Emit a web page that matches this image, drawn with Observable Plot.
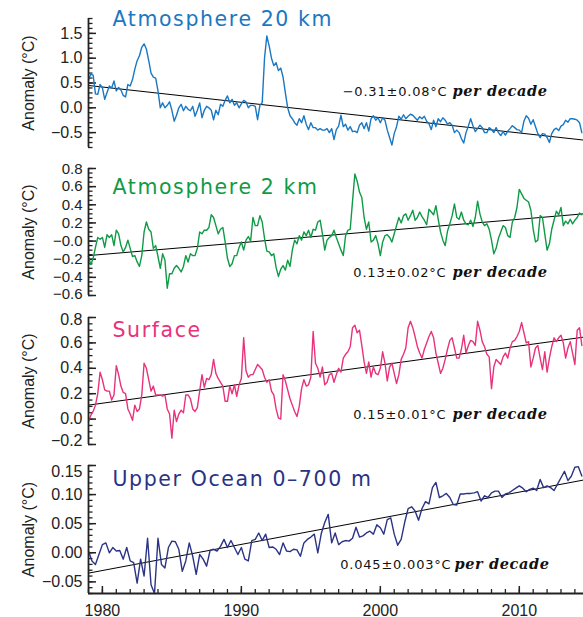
<!DOCTYPE html>
<html><head><meta charset="utf-8">
<script src="https://cdn.jsdelivr.net/npm/d3@7"></script>
<script src="https://cdn.jsdelivr.net/npm/@observablehq/plot@0.6"></script>
<style>
html,body{margin:0;padding:0;background:#fff;}
#chart{width:583px;height:617px;position:relative;overflow:hidden;}
#chart svg{display:block;overflow:visible;}
</style></head>
<body><div id="chart"></div>
<script>
// ---------- data ----------
const startYear = 1979;
const monthlyStep = 1 / 6;   // two-month sampling of the atmospheric/surface series
const oceanStep = 0.25;      // quarterly ocean series

const atm20 = [
 0.56,0.68,0.66,0.28,0.27,0.47,0.40,0.17,0.31,0.44,
 0.40,0.54,0.34,0.41,0.36,0.25,0.22,0.47,0.44,0.57,
 0.78,0.95,1.05,1.22,1.29,1.18,0.95,0.70,0.62,0.60,
 0.34,0.00,0.10,0.00,0.05,0.12,-0.05,-0.27,-0.15,0.00,
 0.07,-0.06,0.03,-0.03,-0.06,0.03,-0.17,-0.05,0.10,-0.20,
 -0.05,0.03,0.00,-0.05,-0.24,-0.05,-0.14,0.07,0.03,0.15,
 0.24,0.10,0.17,0.05,0.10,0.00,0.08,0.15,0.12,0.00,
 0.05,0.05,0.03,-0.24,0.05,0.10,1.00,1.45,1.25,1.00,
 0.85,0.91,0.75,0.80,0.62,0.30,0.00,-0.16,-0.22,-0.30,
 -0.35,-0.22,-0.30,-0.16,-0.33,-0.44,-0.30,-0.40,-0.40,-0.45,
 -0.42,-0.45,-0.45,-0.42,-0.50,-0.42,-0.64,-0.44,-0.37,-0.15,
 -0.38,-0.33,-0.45,-0.38,-0.48,-0.47,-0.50,-0.35,-0.30,-0.42,
 -0.30,-0.47,-0.22,-0.16,-0.25,-0.20,-0.30,-0.20,-0.25,-0.45,
 -0.60,-0.75,-0.52,-0.38,-0.17,-0.23,-0.14,-0.22,-0.17,-0.13,
 -0.15,-0.20,-0.25,-0.18,-0.22,-0.17,-0.27,-0.32,-0.44,-0.25,
 -0.38,-0.22,-0.28,-0.20,-0.25,-0.33,-0.30,-0.35,-0.50,-0.45,
 -0.50,-0.62,-0.71,-0.50,-0.37,-0.22,-0.36,-0.48,-0.42,-0.35,
 -0.40,-0.50,-0.50,-0.40,-0.44,-0.50,-0.40,-0.50,-0.56,-0.48,
 -0.55,-0.47,-0.42,-0.36,-0.40,-0.44,-0.45,-0.50,-0.27,-0.16,
 -0.21,-0.33,-0.24,-0.38,-0.52,-0.60,-0.52,-0.53,-0.60,-0.70,
 -0.52,-0.44,-0.41,-0.46,-0.37,-0.34,-0.25,-0.29,-0.22,-0.22,
 -0.23,-0.25,-0.30,-0.50
];

const atm2 = [
 -0.17,-0.26,-0.19,-0.07,0.04,0.02,0.04,-0.07,0.07,0.04,
 0.07,-0.05,0.12,0.08,-0.05,-0.12,-0.07,0.01,-0.08,-0.17,
 -0.16,-0.23,-0.28,-0.16,0.10,0.21,0.13,0.10,-0.08,-0.05,
 -0.17,-0.30,-0.14,-0.21,-0.52,-0.36,-0.36,-0.30,-0.27,-0.30,
 -0.34,-0.28,-0.16,-0.23,-0.14,-0.16,-0.16,-0.08,0.10,0.08,
 0.12,0.12,0.15,0.29,0.26,0.17,0.08,0.13,0.15,-0.01,
 -0.19,-0.28,-0.25,-0.16,-0.16,-0.07,-0.01,-0.10,0.01,0.05,
 0.00,0.26,0.17,0.17,0.28,0.21,0.03,-0.11,-0.12,-0.16,
 -0.14,-0.29,-0.39,-0.31,-0.27,-0.32,-0.21,-0.28,-0.10,0.01,
 -0.03,0.06,0.01,0.10,0.06,0.12,0.04,0.13,0.12,0.21,
 0.23,0.08,-0.10,0.01,0.04,0.06,0.12,0.04,-0.03,-0.10,
 -0.16,0.06,0.12,0.13,0.44,0.74,0.66,0.54,0.48,0.26,
 0.13,0.21,-0.01,0.01,0.06,-0.03,-0.16,-0.01,0.06,0.07,
 0.04,-0.01,0.08,0.17,0.26,0.20,0.28,0.30,0.23,0.28,
 0.34,0.23,0.26,0.32,0.27,0.23,0.18,0.35,0.32,0.29,
 0.39,0.24,0.10,0.01,-0.05,0.11,0.19,0.28,0.41,0.26,
 0.24,0.32,0.23,0.19,0.18,0.23,0.16,0.26,0.44,0.30,
 0.21,0.17,0.19,0.13,0.01,-0.14,-0.08,0.03,0.10,0.17,
 0.15,0.06,0.04,0.21,0.26,0.37,0.57,0.52,0.47,0.45,
 0.43,0.34,0.13,-0.01,0.01,0.28,0.26,0.08,-0.10,-0.03,
 0.13,0.23,0.33,0.29,0.37,0.17,0.22,0.19,0.24,0.19,
 0.23,0.26,0.31,0.29
];

const surface = [
 -0.02,0.03,0.06,0.11,0.20,0.37,0.31,0.23,0.22,0.22,
 0.15,0.19,0.42,0.35,0.26,0.21,0.20,0.08,0.04,-0.01,
 0.11,0.06,0.08,0.19,0.44,0.40,0.31,0.22,0.26,0.19,
 0.19,0.19,0.18,0.19,0.08,0.04,-0.15,0.07,-0.02,0.04,
 0.07,0.05,0.19,0.19,0.16,0.08,0.06,0.09,0.22,0.35,
 0.25,0.32,0.31,0.35,0.47,0.36,0.32,0.29,0.26,0.14,
 0.14,0.26,0.20,0.27,0.18,0.27,0.32,0.64,0.38,0.33,
 0.35,0.35,0.39,0.43,0.41,0.39,0.33,0.29,0.31,0.22,
 0.19,0.08,0.01,0.00,0.35,0.30,0.23,0.16,0.11,0.06,
 0.02,0.10,0.24,0.31,0.26,0.27,0.33,0.69,0.44,0.40,
 0.33,0.41,0.27,0.29,0.35,0.36,0.29,0.35,0.40,0.37,
 0.48,0.51,0.53,0.57,0.72,0.74,0.68,0.70,0.58,0.45,
 0.36,0.45,0.33,0.41,0.36,0.35,0.40,0.53,0.44,0.30,
 0.41,0.44,0.36,0.28,0.35,0.47,0.51,0.56,0.72,0.77,
 0.72,0.65,0.57,0.52,0.48,0.55,0.60,0.65,0.69,0.64,
 0.52,0.44,0.36,0.40,0.47,0.55,0.62,0.64,0.56,0.48,
 0.48,0.55,0.66,0.52,0.58,0.62,0.61,0.58,0.77,0.70,
 0.61,0.57,0.51,0.49,0.24,0.41,0.47,0.45,0.43,0.49,
 0.52,0.48,0.56,0.61,0.62,0.65,0.69,0.76,0.68,0.60,
 0.61,0.41,0.48,0.56,0.58,0.48,0.39,0.53,0.37,0.48,
 0.57,0.64,0.61,0.64,0.66,0.60,0.48,0.56,0.61,0.52,
 0.43,0.70,0.72,0.58
];

const ocean = [
 0.003,-0.014,-0.020,-0.003,0.014,0.017,0.000,0.009,0.003,0.004,
 -0.011,0.009,-0.014,-0.017,-0.052,-0.011,-0.040,0.025,-0.055,-0.070,
 0.025,-0.020,-0.026,0.009,0.020,0.019,0.006,-0.032,-0.014,0.017,
 -0.006,-0.037,-0.003,-0.011,-0.023,0.004,0.006,0.003,0.011,0.023,
 0.009,0.021,0.009,-0.003,0.009,-0.011,-0.014,0.021,0.023,0.034,
 0.021,0.032,0.009,0.010,0.006,-0.003,0.017,0.003,0.002,0.006,
 0.005,-0.006,0.017,0.023,0.027,0.032,0.000,0.033,0.052,0.066,
 0.017,0.034,0.014,0.019,0.021,0.020,0.025,0.044,0.027,0.029,
 0.034,0.037,0.032,0.048,0.043,0.032,0.057,0.060,0.032,0.013,
 0.023,0.052,0.076,0.079,0.072,0.056,0.076,0.088,0.084,0.112,
 0.121,0.095,0.098,0.102,0.095,0.083,0.082,0.101,0.101,0.102,
 0.102,0.103,0.105,0.089,0.098,0.095,0.103,0.106,0.106,0.095,
 0.101,0.103,0.107,0.111,0.115,0.111,0.105,0.109,0.111,0.107,
 0.126,0.112,0.115,0.112,0.107,0.118,0.129,0.140,0.124,0.132,
 0.147,0.148,0.132
];

// trend lines: value at the first and last year of the axis
const trendYears = [1979, 2014.62];
const atm20Trend = [0.45, -0.65];
const atm2Trend = [-0.16, 0.30];
const surfaceTrend = [0.11, 0.645];
const oceanTrend = [-0.035, 0.125];

// axis ticks
const atm20Ticks = [1.5, 1.0, 0.5, 0.0, -0.5];
const atm20TickLabels = ["1.5", "1.0", "0.5", "0.0", "\u22120.5"];
const atm2Ticks = [0.8, 0.6, 0.4, 0.2, 0.0, -0.2, -0.4, -0.6];
const atm2TickLabels = ["0.8", "0.6", "0.4", "0.2", "\u22120.0", "\u22120.2", "\u22120.4", "\u22120.6"];
const surfaceTicks = [0.8, 0.6, 0.4, 0.2, 0.0, -0.2];
const surfaceTickLabels = ["0.8", "0.6", "0.4", "0.2", "0.0", "\u22120.2"];
const oceanTicks = [0.15, 0.10, 0.05, 0.00, -0.05];
const oceanTickLabels = ["0.15", "0.10", "0.05", "0.00", "\u22120.05"];
const yearTicks = [1980, 1990, 2000, 2010];
const yearTickLabels = ["1980", "1990", "2000", "2010"];

const titles = ["Atmosphere 20 km", "Atmosphere 2 km", "Surface", "Upper Ocean 0\u2013700 m"];
const rates = ["\u22120.31\u00b10.08\u00b0C", "0.13\u00b10.02\u00b0C", "0.15\u00b10.01\u00b0C", "0.045\u00b10.003\u00b0C"];
const rateUnit = "per decade";
const yLabel = "Anomaly (\u00b0C)";

// ---------- layout / style ----------
const W = 583, ML = 88;
const xDomain = [1979, 2014.62];
const frameW = W - ML;
const axisColor = "#222";
const tickFont = "Liberation Sans, Arial, sans-serif";
const titleFont = "DejaVu Sans, sans-serif";

const panels = [
  {values: atm20, step: monthlyStep, yDomain: [-0.8, 1.8], ticks: atm20Ticks, labels: atm20TickLabels, minor: 0.1,
   color: "#1a78c2", title: titles[0], rate: rates[0], trend: atm20Trend, labelSize: 16,
   height: 149, mt: 18, mb: 2, titleDy: 7, rateDy: 77, numEnd: 447, unitEnd: 547, shiftTop: 0, shiftBottom: 0},
  {values: atm2, step: monthlyStep, yDomain: [-0.6, 0.8], ticks: atm2Ticks, labels: atm2TickLabels, minor: 0.05,
   color: "#0f9b46", title: titles[1], rate: rates[1], trend: atm2Trend, labelSize: 15,
   height: 149, mt: 19, mb: 3, titleDy: 25, rateDy: 108, numEnd: 446, unitEnd: 547, shiftTop: 1, shiftBottom: -1},
  {values: surface, step: monthlyStep, yDomain: [-0.2, 0.8], ticks: surfaceTicks, labels: surfaceTickLabels, minor: 0.05,
   color: "#e8327c", title: titles[2], rate: rates[2], trend: surfaceTrend, labelSize: 16,
   height: 149, mt: 19, mb: 3, titleDy: 19, rateDy: 101, numEnd: 446, unitEnd: 547, shiftTop: 2, shiftBottom: -4},
  {values: ocean, step: oceanStep, yDomain: [-0.07, 0.15], ticks: oceanTicks, labels: oceanTickLabels, minor: 0.01,
   color: "#2a3384", title: titles[3], rate: rates[3], trend: oceanTrend, labelSize: 16,
   height: 170, mt: 18, mb: 24, titleDy: 20, rateDy: 103, numEnd: 451, unitEnd: 549, shiftTop: 6, shiftBottom: 0, xAxis: true}
];

const chart = document.getElementById("chart");

panels.forEach(p => {
  const frameH = p.height - p.mt - p.mb;
  const [lo, hi] = p.yDomain;
  const minors = d3.range(Math.ceil(lo / p.minor - 1e-6), Math.floor(hi / p.minor + 1e-6) + 1).map(k => +(k * p.minor).toFixed(4));
  const labelData = p.ticks.map((v, i) => ({v, t: p.labels[i]}));
  const isTop = d => Math.abs(d.v - hi) < 1e-9;
  const isBottom = d => Math.abs(d.v - lo) < 1e-9;
  const labelOpts = {y: "v", text: "t", frameAnchor: "left", textAnchor: "end", lineAnchor: "middle",
    dx: -6, fontSize: p.labelSize, fontFamily: tickFont, fill: axisColor};
  const series = p.values.map((v, i) => ({year: startYear + i * p.step, v}));
  const trendPts = trendYears.map((y, i) => ({year: y, v: p.trend[i]}));

  const marks = [
    Plot.tickY(minors, {y: d => d, stroke: axisColor, strokeWidth: 1.3, insetRight: frameW - 4.5}),
    Plot.tickY(p.ticks, {y: d => d, stroke: axisColor, strokeWidth: 1.5, insetRight: frameW - 8}),
    Plot.line(trendPts, {x: "year", y: "v", stroke: "#000", strokeWidth: 1}),
    Plot.line(series, {x: "year", y: "v", stroke: p.color, strokeWidth: 1.4, strokeLinejoin: "round"}),
    Plot.ruleX([xDomain[0]], {stroke: axisColor, strokeWidth: 1.8}),
    Plot.text(labelData.filter(d => !isTop(d) && !isBottom(d)), labelOpts),
    Plot.text(labelData.filter(isTop), {...labelOpts, dy: p.shiftTop}),
    Plot.text(labelData.filter(isBottom), {...labelOpts, dy: p.shiftBottom}),
    Plot.text([yLabel], {text: d => d, frameAnchor: "left", rotate: -90, dx: -60, textAnchor: "middle",
      lineAnchor: "middle", fontSize: 16, fontFamily: tickFont, fill: axisColor}),
    Plot.text([p.title], {text: d => d, frameAnchor: "top-left", dx: 24, dy: p.titleDy, textAnchor: "start",
      lineAnchor: "bottom", fontSize: 20.5, fontFamily: titleFont, fill: p.color}),
    Plot.text([p.rate], {text: d => d, frameAnchor: "top-right", dx: p.numEnd - W, dy: p.rateDy, textAnchor: "end",
      lineAnchor: "bottom", fontSize: 13, fontFamily: titleFont, fill: "#111"}),
    Plot.text([rateUnit], {text: d => d, frameAnchor: "top-right", dx: p.unitEnd - W, dy: p.rateDy, textAnchor: "end",
      lineAnchor: "bottom", fontSize: 14.5, fontFamily: "DejaVu Serif, serif", fontWeight: "bold", fontStyle: "italic", fill: "#111"})
  ];

  if (p.xAxis) {
    const yearMinors = d3.range(xDomain[0], Math.floor(xDomain[1]) + 1);
    marks.push(
      Plot.tickX(yearMinors, {x: d => d, stroke: axisColor, strokeWidth: 1.3, insetTop: frameH - 4}),
      Plot.tickX(yearTicks, {x: d => d, stroke: axisColor, strokeWidth: 1.5, insetTop: frameH - 7}),
      Plot.ruleY([lo], {stroke: axisColor, strokeWidth: 1.8}),
      Plot.text(yearTicks.map((v, i) => ({v, t: yearTickLabels[i]})), {x: "v", text: "t", frameAnchor: "bottom",
        lineAnchor: "bottom", dy: 22, fontSize: 16, fontFamily: tickFont, fill: axisColor})
    );
  }

  const svg = Plot.plot({
    width: W, height: p.height,
    marginLeft: ML, marginRight: 0, marginTop: p.mt, marginBottom: p.mb,
    x: {domain: xDomain, axis: null},
    y: {domain: p.yDomain, axis: null},
    style: {background: "transparent", overflow: "visible"},
    marks
  });
  d3.select(svg).selectAll("text").filter(function () { return this.textContent === p.title; })
    .attr("letter-spacing", "1.6px");
  d3.select(svg).selectAll("text").filter(function () { return this.textContent === p.rate; })
    .attr("letter-spacing", "0.8px");
  d3.select(svg).selectAll("text").filter(function () { return this.textContent === rateUnit; })
    .attr("letter-spacing", "0.6px");
  chart.appendChild(svg);
});
</script>
</body></html>
